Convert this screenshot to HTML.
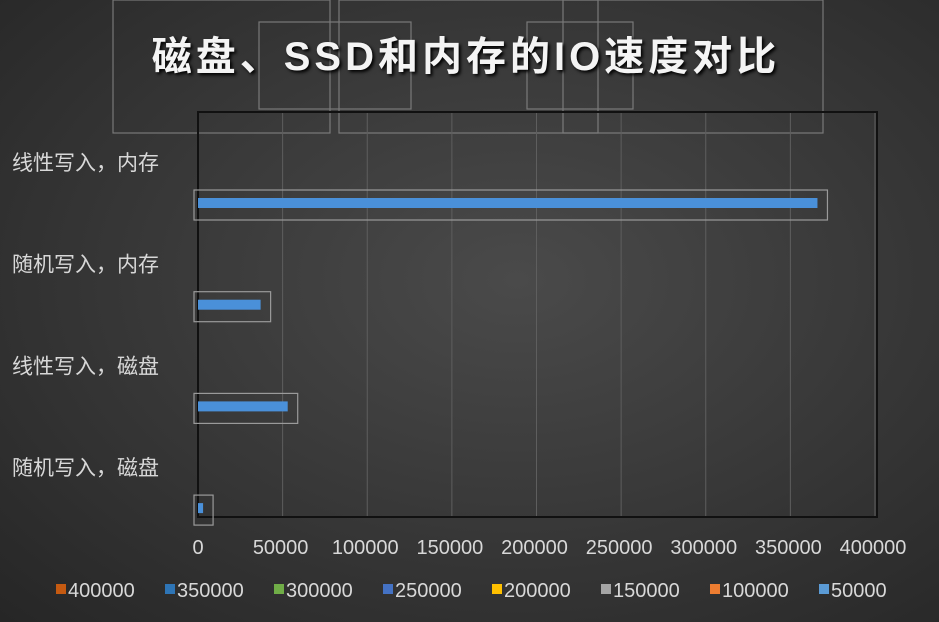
<!DOCTYPE html>
<html><head><meta charset="utf-8">
<style>
html,body{margin:0;padding:0;}
body{width:939px;height:622px;overflow:hidden;background:radial-gradient(ellipse at 55% 45%,#4a4a4a 0%,#3a3a3a 45%,#262626 100%);font-family:"Liberation Sans","Noto Sans CJK SC",sans-serif;}
svg{position:absolute;left:0;top:0;}
</style></head>
<body>
<svg width="939" height="622">
<g id="overlay" fill="none" stroke="#8a8a8a" stroke-width="1.2" opacity="0.8">
<rect x="113" y="0" width="217" height="133"/>
<rect x="259" y="22" width="152" height="87"/>
<rect x="339" y="0" width="484" height="133"/>
<rect x="527" y="22" width="106" height="87"/>
<rect x="563" y="0" width="35" height="133"/>
</g>
<text x="466" y="70" text-anchor="middle" font-size="40" font-weight="bold" letter-spacing="4" fill="#f4f4f4" style="text-shadow:2px 2px 3px #000">磁盘、SSD和内存的IO速度对比</text>
<g id="grid"></g>
<rect x="198" y="112" width="679" height="405" fill="none" stroke="#111" stroke-width="2"/>
<g id="bars"></g>
<g id="cats"></g>
<g id="ticks"></g>
<g id="legend"></g>
</svg>
<script>
const categories=["线性写入，内存","随机写入，内存","线性写入，磁盘","随机写入，磁盘"];
const values=[366000,37000,53000,3000];
const tickValues=[0,50000,100000,150000,200000,250000,300000,350000,400000];
const tickLabels=["0","50000","100000","150000","200000","250000","300000","350000","400000"];
const legendLabels=["400000","350000","300000","250000","200000","150000","100000","50000"];
const legendColors=["#c55a11","#2e75b6","#70ad47","#4472c4","#ffc000","#a5a5a5","#ed7d31","#5b9bd5"];
const NS="http://www.w3.org/2000/svg";
const X0=198,XMAX=400000,W=677;
function x(v){return X0+v/XMAX*W;}
function yBar(i){return 203+i*101.7;}
function yCat(i){return 162+i*101.7;}
function mk(t,a,p){const e=document.createElementNS(NS,t);for(const k in a)e.setAttribute(k,a[k]);p.appendChild(e);return e;}
const grid=document.getElementById('grid');
tickValues.forEach((v,i)=>{if(i===0)return;const l=mk('line',{x1:x(v),x2:x(v),y1:112,y2:517,stroke:'#5e5e5e','stroke-width':1},grid);

});
const bars=document.getElementById('bars');
values.forEach((v,i)=>{const y=yBar(i);
const b=mk('rect',{x:x(0)-4,y:y-13,width:x(v)-x(0)+14,height:30,fill:'none',stroke:'#9a9a9a','stroke-width':1.2},bars);


const r=mk('rect',{x:x(0),y:y-5,width:x(v)-x(0),height:10,fill:'#4a90d9'},bars);

});
const cats=document.getElementById('cats');
categories.forEach((c,i)=>{const t=mk('text',{x:12,y:yCat(i)+8,'font-size':21,fill:'#d8d8d8'},cats);t.textContent=c;

});
const ticks=document.getElementById('ticks');
tickValues.forEach((v,i)=>{const t=mk('text',{x:i===0?x(v):x(v)-2,y:554,'text-anchor':'middle','font-size':20,fill:'#d8d8d8'},ticks);t.textContent=tickLabels[i];

});
const leg=document.getElementById('legend');
let lx=56;
legendLabels.forEach((l,i)=>{const s=mk('rect',{x:lx,y:584,width:10,height:10,fill:legendColors[i]},leg);


const t=mk('text',{x:lx+12,y:597,'font-size':20,fill:'#d8d8d8'},leg);t.textContent=l;


lx+=l.length===6?109:96;});
</script>
</body></html>
